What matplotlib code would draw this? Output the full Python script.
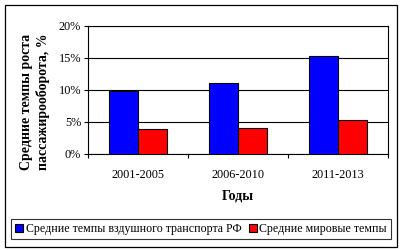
import matplotlib.pyplot as plt
import numpy as np
from matplotlib.patches import Rectangle

periods = ["2001-2005", "2006-2010", "2011-2013"]
rf_growth = [9.8, 11.1, 15.3]      # % , air transport RF
world_growth = [3.9, 4.1, 5.3]     # % , world average
series_names = ["Средние темпы вздушного транспорта РФ", "Средние мировые темпы"]

plt.rcParams['font.family'] = ['Liberation Serif', 'DejaVu Serif']
fs = 8.8

fig = plt.figure(figsize=(4.04, 2.5), dpi=100)
W, H = 404, 250
ax = fig.add_axes([88 / W, 1 - 154 / H, 300 / W, 128 / H])

x = np.arange(len(periods))
bw = 0.29
ax.bar(x - bw / 2, rf_growth, bw, color="#0000ff", edgecolor="black", linewidth=0.8,
       label=series_names[0], zorder=3)
ax.bar(x + bw / 2, world_growth, bw, color="#ff0000", edgecolor="black", linewidth=0.8,
       label=series_names[1], zorder=3)

ax.set_xlim(-0.5, 2.5)
ax.set_ylim(0, 20)
ax.set_yticks([0, 5, 10, 15, 20])
ax.set_yticklabels(["0%", "5%", "10%", "15%", "20%"], fontsize=fs)
ax.yaxis.grid(True, color="black", linewidth=0.8, zorder=0)

ax.set_xticks([-0.5, 0.5, 1.5, 2.5])
ax.set_xticklabels([])
ax.set_xticks(x, minor=True)
ax.set_xticklabels(periods, minor=True, fontsize=fs)
ax.tick_params(axis="x", which="minor", length=0, pad=11)
ax.tick_params(axis="x", which="major", length=3, width=0.8, direction="out")
ax.tick_params(axis="y", length=3, width=0.8, pad=2)
for s in ax.spines.values():
    s.set_linewidth(0.8)

ax.set_xlabel("Годы", fontsize=10, fontweight="bold", labelpad=6)
fig.text(35 / W, 1 - 102 / H, "Средние темпы роста\nпассажирооборота, %",
         rotation=90, ha="center", va="center", fontsize=10,
         fontweight="bold", linespacing=1.35)

# outer chart frame
fig.patches.append(Rectangle((5 / W, 1 - 247 / H), 392 / W, 242 / H,
                             transform=fig.transFigure, fill=False,
                             edgecolor="black", linewidth=0.9))

leg = fig.legend(loc="center", bbox_to_anchor=(201 / W, 1 - 229 / H), ncol=2,
                 fontsize=8.6, frameon=True, fancybox=False, handlelength=0.7,
                 handleheight=0.7, handletextpad=0.2, columnspacing=0.6,
                 borderpad=0.3, borderaxespad=0)
leg.get_frame().set_edgecolor("black")
leg.get_frame().set_linewidth(0.8)

fig.savefig("out.png", dpi=100)
